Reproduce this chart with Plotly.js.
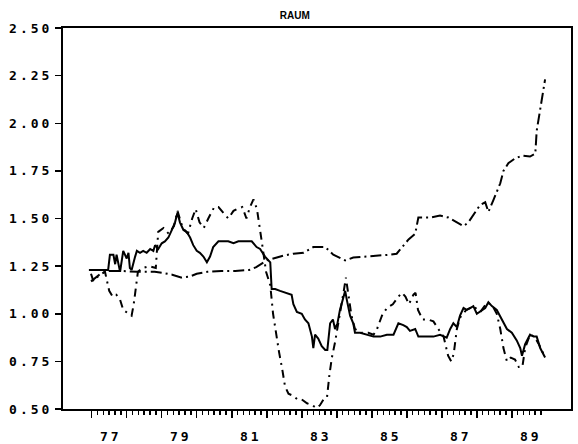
<!DOCTYPE html>
<html><head><meta charset="utf-8">
<script src="https://cdn.plot.ly/plotly-3.0.1.min.js"></script>
<style>
html,body{margin:0;padding:0;background:#fff;}
#chart{width:578px;height:444px;}
.xtick text, .ytick text { letter-spacing: 3px; }
</style></head><body><div id="chart"></div>
<script>
// Solid series
const yearsC = [76.92, 77.47, 77.52, 77.62, 77.67, 77.71, 77.81, 77.90, 78.0, 78.05, 78.09, 78.14, 78.24, 78.29, 78.38, 78.47, 78.57, 78.67, 78.76, 78.81, 78.90, 79.0, 79.09, 79.19, 79.29, 79.38, 79.45, 79.52, 79.62, 79.71, 79.81, 79.90, 80.0, 80.09, 80.19, 80.29, 80.38, 80.47, 80.62, 80.76, 80.90, 81.05, 81.19, 81.33, 81.43, 81.57, 81.71, 81.81, 81.95, 82.10, 82.14, 82.24, 82.38, 82.57, 82.71, 82.76, 82.86, 83.0, 83.09, 83.19, 83.29, 83.33, 83.38, 83.47, 83.57, 83.67, 83.73, 83.81, 83.89, 83.95, 84.02, 84.09, 84.21, 84.24, 84.29, 84.38, 84.47, 84.52, 84.67, 84.86, 85.05, 85.24, 85.43, 85.62, 85.76, 85.90, 86.0, 86.09, 86.24, 86.33, 86.57, 86.76, 86.95, 87.14, 87.24, 87.33, 87.43, 87.52, 87.62, 87.71, 87.81, 87.90, 88.0, 88.14, 88.24, 88.33, 88.43, 88.57, 88.71, 88.86, 89.0, 89.14, 89.24, 89.29, 89.38, 89.52, 89.62, 89.71, 89.81, 89.95];
const valuesC = [1.23, 1.23, 1.31, 1.31, 1.26, 1.31, 1.22, 1.33, 1.29, 1.32, 1.24, 1.23, 1.30, 1.33, 1.32, 1.33, 1.32, 1.34, 1.33, 1.36, 1.34, 1.37, 1.38, 1.40, 1.44, 1.48, 1.53, 1.48, 1.44, 1.43, 1.40, 1.36, 1.33, 1.32, 1.30, 1.27, 1.30, 1.35, 1.38, 1.38, 1.38, 1.37, 1.38, 1.38, 1.38, 1.38, 1.35, 1.34, 1.30, 1.27, 1.13, 1.13, 1.12, 1.11, 1.10, 1.05, 1.01, 1.00, 0.97, 0.95, 0.88, 0.82, 0.89, 0.87, 0.83, 0.81, 0.81, 0.95, 0.97, 0.92, 0.95, 1.02, 1.09, 1.12, 1.07, 0.99, 0.95, 0.90, 0.90, 0.89, 0.88, 0.88, 0.89, 0.89, 0.95, 0.94, 0.93, 0.91, 0.92, 0.88, 0.88, 0.88, 0.89, 0.875, 0.92, 0.95, 0.93, 0.99, 1.03, 1.02, 1.03, 1.04, 1.00, 1.02, 1.03, 1.06, 1.04, 1.02, 0.97, 0.92, 0.90, 0.86, 0.82, 0.78, 0.84, 0.89, 0.88, 0.88, 0.82, 0.77];

// Rising dash-dot series
const yearsA = [76.98, 77.1, 77.25, 77.45, 77.8, 78.3, 78.8, 79.0, 79.3, 79.55, 79.8, 80.0, 80.3, 80.7, 81.1, 81.5, 81.7, 82.0, 82.19, 82.47, 82.76, 83.05, 83.33, 83.67, 83.9, 84.05, 84.24, 84.47, 84.86, 85.24, 85.52, 85.71, 85.86, 86.05, 86.24, 86.29, 86.33, 86.67, 86.95, 87.19, 87.43, 87.62, 87.76, 87.9, 88.09, 88.24, 88.33, 88.47, 88.57, 88.67, 88.76, 88.9, 89.09, 89.29, 89.52, 89.67, 89.71, 89.79, 89.86, 89.95];
const valuesA = [1.17, 1.19, 1.21, 1.225, 1.225, 1.22, 1.22, 1.215, 1.205, 1.19, 1.195, 1.21, 1.22, 1.225, 1.225, 1.23, 1.245, 1.28, 1.29, 1.305, 1.315, 1.32, 1.35, 1.35, 1.31, 1.295, 1.28, 1.295, 1.30, 1.305, 1.31, 1.315, 1.35, 1.39, 1.42, 1.48, 1.505, 1.505, 1.515, 1.505, 1.48, 1.46, 1.48, 1.52, 1.57, 1.585, 1.535, 1.595, 1.645, 1.685, 1.75, 1.79, 1.815, 1.83, 1.825, 1.84, 1.96, 2.05, 2.14, 2.23];

// Volatile dashed series
const yearsB = [76.98, 77.05, 77.2, 77.38, 77.5, 77.6, 77.7, 77.8, 77.9, 78.05, 78.14, 78.2, 78.25, 78.32, 78.45, 78.65, 78.83, 78.9, 79.05, 79.2, 79.35, 79.45, 79.6, 79.75, 79.87, 79.97, 80.08, 80.2, 80.33, 80.5, 80.62, 80.75, 80.9, 81.05, 81.15, 81.3, 81.42, 81.52, 81.62, 81.72, 81.8, 81.88, 81.98, 82.1, 82.18, 82.26, 82.35, 82.45, 82.52, 82.62, 82.75, 82.88, 83.0, 83.15, 83.3, 83.42, 83.52, 83.62, 83.72, 83.79, 83.86, 83.95, 84.1, 84.2, 84.26, 84.33, 84.42, 84.52, 84.7, 84.9, 85.05, 85.15, 85.29, 85.43, 85.6, 85.76, 85.86, 85.96, 86.06, 86.19, 86.25, 86.32, 86.45, 86.6, 86.76, 86.9, 87.05, 87.18, 87.27, 87.34, 87.43, 87.52, 87.7, 87.9, 88.1, 88.3, 88.45, 88.57, 88.67, 88.76, 88.86, 88.97, 89.09, 89.2, 89.3, 89.38, 89.52, 89.65, 89.8, 89.95];
const valuesB = [1.21, 1.17, 1.20, 1.22, 1.12, 1.09, 1.10, 1.08, 1.02, 1.00, 0.99, 1.05, 1.12, 1.22, 1.24, 1.25, 1.24, 1.43, 1.45, 1.42, 1.46, 1.54, 1.45, 1.42, 1.50, 1.55, 1.48, 1.45, 1.50, 1.56, 1.56, 1.53, 1.50, 1.54, 1.55, 1.56, 1.50, 1.56, 1.60, 1.55, 1.46, 1.35, 1.22, 1.15, 1.00, 0.90, 0.80, 0.70, 0.62, 0.58, 0.57, 0.55, 0.55, 0.53, 0.52, 0.505, 0.52, 0.55, 0.56, 0.68, 0.77, 0.85, 1.00, 1.12, 1.19, 1.10, 0.99, 0.92, 0.90, 0.90, 0.89, 0.92, 0.99, 1.03, 1.05, 1.09, 1.11, 1.09, 1.05, 1.10, 1.11, 1.02, 0.97, 0.97, 0.96, 0.92, 0.88, 0.78, 0.75, 0.79, 0.92, 0.98, 1.02, 1.04, 1.01, 1.06, 1.04, 1.00, 0.92, 0.82, 0.75, 0.77, 0.76, 0.72, 0.72, 0.82, 0.89, 0.88, 0.83, 0.77];

const xLabels = ['77', '', '79', '', '81', '', '83', '', '85', '', '87', '', '89'];
const yTickVals = [0.5, 0.75, 1.0, 1.25, 1.5, 1.75, 2.0, 2.25, 2.5];
const yTickText = ['0.50', '0.75', '1.00', '1.25', '1.50', '1.75', '2.00', '2.25', '2.50'];

const majorTicks = [];
for (let y = 77; y <= 89; y++) majorTicks.push(y);
const minorTicks = [];
for (let i = 1; i <= 77; i++) { if (i % 6 !== 0) minorTicks.push(77 + i / 6); }

const xRange = [76.18, 90.69];
const tickFont = {family: 'DejaVu Sans Mono', size: 13, color: '#000', weight: 'bold'};

const traces = [
  {x: yearsC, y: valuesC, type: 'scatter', mode: 'lines', line: {color: '#000', width: 2}},
  {x: yearsA, y: valuesA, type: 'scatter', mode: 'lines', line: {color: '#000', width: 2, dash: '11px,4px,2px,4px'}},
  {x: yearsB, y: valuesB, type: 'scatter', mode: 'lines', line: {color: '#000', width: 2, dash: '8px,5px,2px,5px'}}
];

const layout = {
  width: 578, height: 444,
  margin: {l: 63, r: 7, t: 28, b: 35},
  paper_bgcolor: '#fff', plot_bgcolor: '#fff',
  showlegend: false,
  title: {text: 'RAUM', font: {family: 'Liberation Sans', size: 10, color: '#000', weight: 'bold'},
          x: 0.51, xref: 'container', xanchor: 'center', y: 0.966, yref: 'container', yanchor: 'middle'},
  xaxis: {
    range: xRange, tickmode: 'array', tickvals: majorTicks, ticktext: xLabels,
    ticks: 'outside', ticklen: 7, tickwidth: 1.5, tickcolor: '#000',
    ticklabelshift: 19, ticklabelstandoff: 7,
    minor: {tickmode: 'array', tickvals: minorTicks, ticks: 'outside', ticklen: 4, tickwidth: 1.5, tickcolor: '#000'},
    showline: true, mirror: true, linewidth: 2, linecolor: '#000',
    showgrid: false, zeroline: false, tickfont: tickFont
  },
  yaxis: {
    range: [0.5, 2.5], tickmode: 'array', tickvals: yTickVals, ticktext: yTickText,
    ticks: 'outside', ticklen: 6, tickwidth: 1.5, tickcolor: '#000',
    showline: true, mirror: true, linewidth: 2, linecolor: '#000',
    showgrid: false, zeroline: false, tickfont: tickFont
  }
};

Plotly.newPlot('chart', traces, layout, {staticPlot: true, displayModeBar: false});
</script></body></html>
